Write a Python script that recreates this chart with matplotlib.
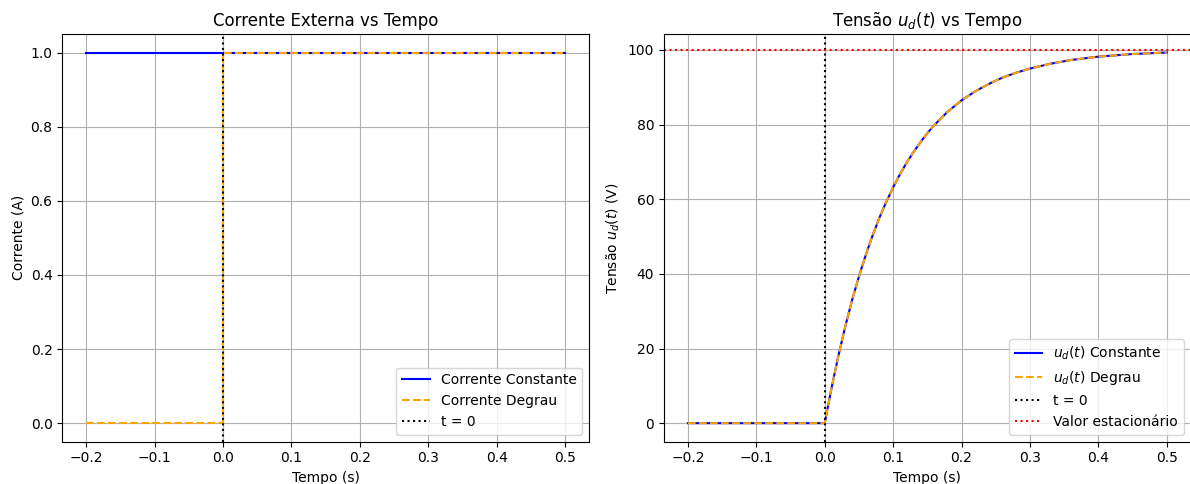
import matplotlib
matplotlib.use("Agg")
import matplotlib.pyplot as plt

# Left panel data
t_const = [-0.2, 0.5]
i_const = [1.0, 1.0]
t_step = [-0.2, 0.0, 0.0, 0.5]
i_step = [0.0, 0.0, 1.0, 1.0]

# Right panel data
t_u = [-0.2, -0.1, 0.0, 0.01, 0.02, 0.03, 0.04, 0.05, 0.06, 0.07, 0.08, 0.09,
       0.1, 0.11, 0.12, 0.13, 0.14, 0.15, 0.16, 0.17, 0.18, 0.19, 0.2,
       0.22, 0.24, 0.26, 0.28, 0.3, 0.33, 0.36, 0.4, 0.45, 0.5]
u_vals = [0.0, 0.0, 0.0, 9.5, 18.1, 25.9, 33.0, 39.3, 45.1, 50.3, 55.1, 59.3,
          63.2, 66.7, 69.9, 72.7, 75.3, 77.7, 79.8, 81.7, 83.5, 85.0, 86.5,
          88.9, 90.9, 92.6, 93.9, 95.0, 96.3, 97.3, 98.2, 98.9, 99.3]
u_ss = 100.0

plt.rcParams['font.family'] = ['DejaVu Sans']
W, H = 1190.0, 484.0
fig = plt.figure(figsize=(11.9, 4.84), dpi=100)
bot = (H - 441.7) / H
hgt = (441.7 - 34.0) / H
ax1 = fig.add_axes([62.3 / W, bot, 526.7 / W, hgt])
ax2 = fig.add_axes([664.0 / W, bot, 526.7 / W, hgt])

ax1.plot(t_const, i_const, color='blue', lw=1.5, label='Corrente Constante')
ax1.plot(t_step, i_step, color='orange', ls='--', lw=1.5, label='Corrente Degrau')
ax1.axvline(0, color='black', ls=':', lw=1.5, label='t = 0')
ax1.set_title('Corrente Externa vs Tempo')
ax1.set_xlabel('Tempo (s)')
ax1.set_ylabel('Corrente (A)')
ax1.grid(True)
ax1.legend(loc='lower right')

ax2.plot(t_u, u_vals, color='blue', lw=1.5, label='$u_d(t)$ Constante')
ax2.plot(t_u, u_vals, color='orange', ls='--', lw=1.5, label='$u_d(t)$ Degrau')
ax2.axvline(0, color='black', ls=':', lw=1.5, label='t = 0')
ax2.axhline(u_ss, color='red', ls=':', lw=1.5, label='Valor estacionário')
ax2.set_title('Tensão $u_d(t)$ vs Tempo')
ax2.set_xlabel('Tempo (s)')
ax2.set_ylabel('Tensão $u_d(t)$ (V)')
ax2.grid(True)
ax2.legend(loc='lower right')

fig.savefig('out.png', dpi=100)
